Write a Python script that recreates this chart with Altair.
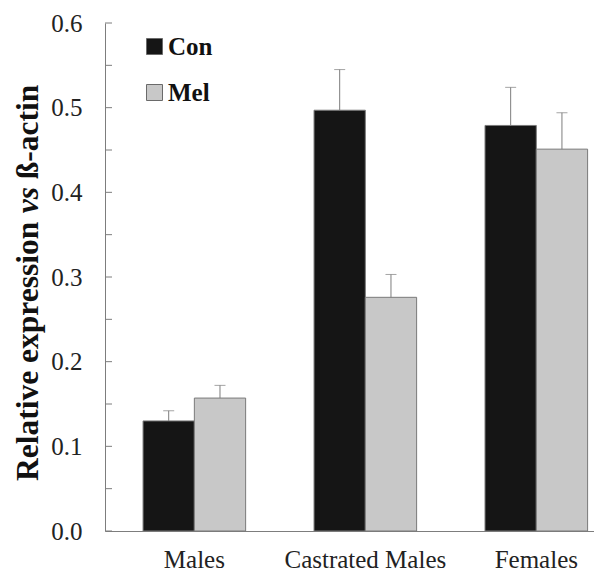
import altair as alt
import pandas as pd

groups = ["Males", "Castrated Males", "Females"]
treatments = ["Con", "Mel"]
con_values = [0.130, 0.497, 0.479]
mel_values = [0.157, 0.276, 0.451]
con_sem = [0.012, 0.048, 0.045]
mel_sem = [0.015, 0.027, 0.043]
y_labels = [0.0, 0.1, 0.2, 0.3, 0.4, 0.5, 0.6]
y_ticks = [0.0, 0.05, 0.1, 0.15, 0.2, 0.25, 0.3, 0.35, 0.4, 0.45, 0.5, 0.55, 0.6]
title_parts = ["Relative expression ", "vs ", "\u00df-actin"]

FONT = "Liberation Serif"
AXIS_GRAY = "#7d7d7d"

rows = []
for i, g in enumerate(groups):
    rows.append({"group": g, "treatment": "Con", "value": con_values[i],
                 "upper": con_values[i] + con_sem[i]})
    rows.append({"group": g, "treatment": "Mel", "value": mel_values[i],
                 "upper": mel_values[i] + mel_sem[i]})
df = pd.DataFrame(rows)
tick_df = pd.DataFrame({"t": y_ticks})

x_enc = alt.X(
    "group:N", sort=groups,
    scale=alt.Scale(paddingInner=0.4, paddingOuter=0.13, align=0.856),
    axis=alt.Axis(title=None, labelAngle=0, ticks=False, labelPadding=16,
                  labelFont=FONT, labelFontSize=25, labelColor="#222222",
                  domainColor=AXIS_GRAY, domainWidth=1),
)
xoff_enc = alt.XOffset("treatment:N", sort=treatments,
                       scale=alt.Scale(paddingInner=0, paddingOuter=0))
y_scale = alt.Scale(domain=[0, 0.6], nice=False, zero=True)

bars = alt.Chart(df).mark_bar(stroke="#7a7a7a", strokeWidth=1).encode(
    x=x_enc,
    xOffset=xoff_enc,
    y=alt.Y("value:Q", scale=y_scale,
            axis=alt.Axis(title=None, values=y_labels, format=".1f", ticks=False,
                          grid=False, labelPadding=23, labelFont=FONT,
                          labelFontSize=25, labelColor="#222222",
                          domainColor=AXIS_GRAY, domainWidth=1)),
    color=alt.Color(
        "treatment:N", sort=treatments,
        scale=alt.Scale(domain=treatments, range=["#151515", "#c8c8c8"]),
        legend=alt.Legend(title=None, orient="none", legendX=37, legendY=11,
                          symbolType="square", symbolSize=256,
                          symbolStrokeColor="#6a6a6a", symbolStrokeWidth=1,
                          labelFont=FONT, labelFontSize=25, labelFontWeight="bold",
                          labelColor="#111111", rowPadding=20, labelOffset=1,
                          padding=0),
    ),
)

err_rule = alt.Chart(df).mark_rule(color=AXIS_GRAY, strokeWidth=1).encode(
    x=x_enc, xOffset=xoff_enc,
    y=alt.Y("value:Q", scale=y_scale), y2="upper:Q",
)
err_cap = alt.Chart(df).mark_tick(color=AXIS_GRAY, thickness=1, size=11,
                                  orient="horizontal").encode(
    x=x_enc, xOffset=xoff_enc,
    y=alt.Y("upper:Q", scale=y_scale),
)

inner_ticks = alt.Chart(tick_df).mark_rule(color=AXIS_GRAY, strokeWidth=1).encode(
    x=alt.value(0), x2=alt.value(7),
    y=alt.Y("t:Q", scale=y_scale),
)

# y-axis title built from three text pieces so that "vs" can be italic
fs = 31.5
w1 = 8.499 * fs
w2 = 1.083 * fs
y_start = 458
title_x = -67
one = pd.DataFrame({"k": [0]})
t1 = alt.Chart(one).mark_text(text=title_parts[0], font=FONT, fontSize=fs,
                              fontWeight="bold", angle=270, align="left",
                              baseline="alphabetic", color="#111111").encode(
    x=alt.value(title_x), y=alt.value(y_start))
t2 = alt.Chart(one).mark_text(text=title_parts[1], font=FONT, fontSize=fs,
                              fontWeight="bold", fontStyle="italic", angle=270,
                              align="left", baseline="alphabetic",
                              color="#111111").encode(
    x=alt.value(title_x), y=alt.value(y_start - w1))
t3 = alt.Chart(one).mark_text(text=title_parts[2], font=FONT, fontSize=fs,
                              fontWeight="bold", angle=270, align="left",
                              baseline="alphabetic", color="#111111").encode(
    x=alt.value(title_x), y=alt.value(y_start - w1 - w2))

chart = alt.layer(bars, err_rule, err_cap, inner_ticks, t1, t2, t3).properties(
    width=489, height=508,
    autosize=alt.AutoSizeParams(type="none"),
    padding={"left": 97, "top": 15, "right": 0, "bottom": 42},
    background="white",
).configure_view(stroke=None)

chart.save("out.html", embed_options={"renderer": "svg", "actions": False})
